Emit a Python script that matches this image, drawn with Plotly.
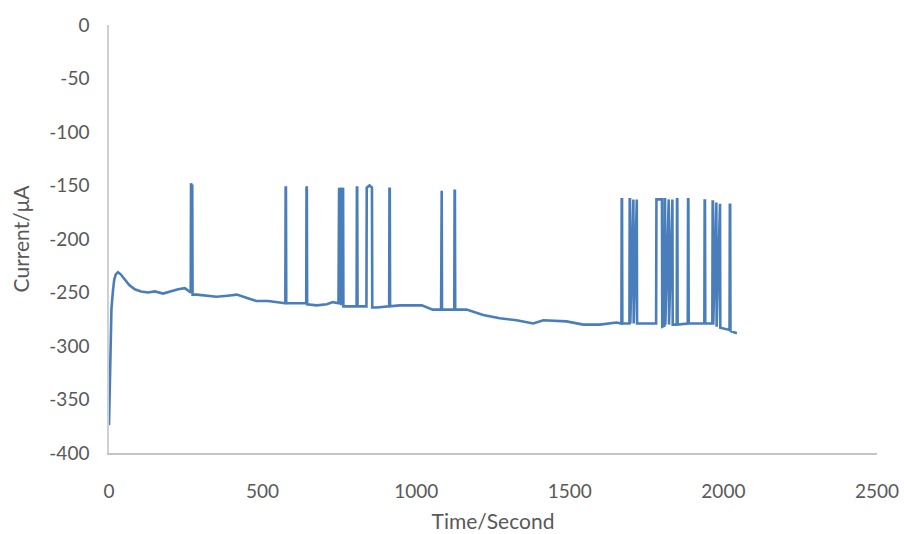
import plotly.graph_objects as go

# Chronoamperometric trace: time (s) and current (µA)
time_s = [
    0, 3, 5, 8, 13, 17, 22, 29, 38, 51, 66, 84, 104, 127, 149, 176, 200, 225, 247, 263,
    266, 267, 268, 270, 271, 272, 286, 316, 350, 386, 416, 447, 480, 518, 556, 574,
    575, 576, 577, 608, 642,
    643, 644, 645, 676, 709, 729, 747,
    748, 749, 750, 754, 755, 756, 761, 762, 763, 785, 806,
    807, 808, 809, 838,
    839, 848, 856, 857, 871, 912,
    913, 914, 915, 946, 1018, 1054, 1081,
    1082, 1083, 1084, 1124,
    1125, 1126, 1127, 1164, 1218, 1272, 1327, 1381, 1414, 1489, 1544, 1598, 1652, 1668,
    1669, 1670, 1671, 1694,
    1695, 1696, 1697, 1706, 1707, 1708, 1717, 1718, 1719, 1781,
    1782, 1791, 1800, 1801, 1808,
    1809, 1810, 1811, 1821, 1822, 1823, 1833, 1834, 1835, 1848,
    1849, 1850, 1851, 1884,
    1885, 1886, 1887, 1938,
    1939, 1940, 1941, 1964,
    1965, 1966, 1967, 1976, 1977, 1978, 1988, 1989, 1990, 2020,
    2021, 2022, 2023, 2044,
]
current_ua = [
    -374, -335, -295, -265, -248, -238, -233, -231, -233, -238, -243, -247, -249, -250, -249, -251, -249, -247, -246, -249,
    -250, -148, -149, -251, -149, -252, -252, -253, -254, -253, -252, -255, -258, -258, -259, -260,
    -152, -152, -260, -260, -260,
    -152, -152, -261, -262, -261, -259, -260,
    -152, -152, -261, -152, -152, -262, -152, -152, -263, -263, -263,
    -152, -152, -263, -263,
    -152, -150, -152, -264, -264, -263,
    -153, -153, -263, -262, -262, -266, -266,
    -155, -155, -266, -266,
    -155, -155, -266, -266, -271, -274, -276, -279, -276, -277, -280, -280, -278, -279,
    -163, -163, -279, -279,
    -163, -163, -279, -163, -163, -279, -163, -163, -279, -279,
    -163, -163, -163, -282, -281,
    -163, -163, -280, -163, -163, -280, -163, -163, -280, -280,
    -163, -163, -280, -279,
    -163, -163, -279, -279,
    -164, -164, -279, -279,
    -165, -165, -280, -166, -166, -282, -167, -167, -283, -285,
    -168, -168, -286, -288,
]

x_ticks = [0, 500, 1000, 1500, 2000, 2500]
y_ticks = [0, -50, -100, -150, -200, -250, -300, -350, -400]

font_family = "Lato, 'Open Sans', sans-serif"
grey = "#595959"

fig = go.Figure(
    go.Scatter(
        x=time_s,
        y=current_ua,
        mode="lines",
        line=dict(color="#4a7ebb", width=2.6),
        hoverinfo="x+y",
    )
)

fig.update_layout(
    width=904,
    height=534,
    margin=dict(l=109, r=27, t=25, b=81),
    paper_bgcolor="white",
    plot_bgcolor="white",
    showlegend=False,
    font=dict(family=font_family, color=grey, size=14),
)

fig.update_xaxes(
    range=[0, 2500],
    tickvals=x_ticks,
    ticktext=[str(v) for v in x_ticks],
    automargin=False,
    showgrid=False,
    zeroline=False,
    showline=True,
    linecolor="#c4c4c4",
    linewidth=1.5,
    ticks="",
    ticklabelstandoff=20,
    tickfont=dict(size=19, color=grey),
    title=dict(text="Time/Second", font=dict(size=21, color=grey), standoff=14),
)

fig.update_yaxes(
    range=[-400, 0],
    tickvals=y_ticks,
    ticktext=[str(v) for v in y_ticks],
    automargin=False,
    showgrid=False,
    zeroline=False,
    showline=True,
    linecolor="#d0d0d0",
    linewidth=1.5,
    ticks="",
    ticklabelstandoff=14,
    tickfont=dict(size=19, color=grey),
    title=dict(text="Current/μA", font=dict(size=21, color=grey), standoff=14),
)

fig.write_html("out.html")
